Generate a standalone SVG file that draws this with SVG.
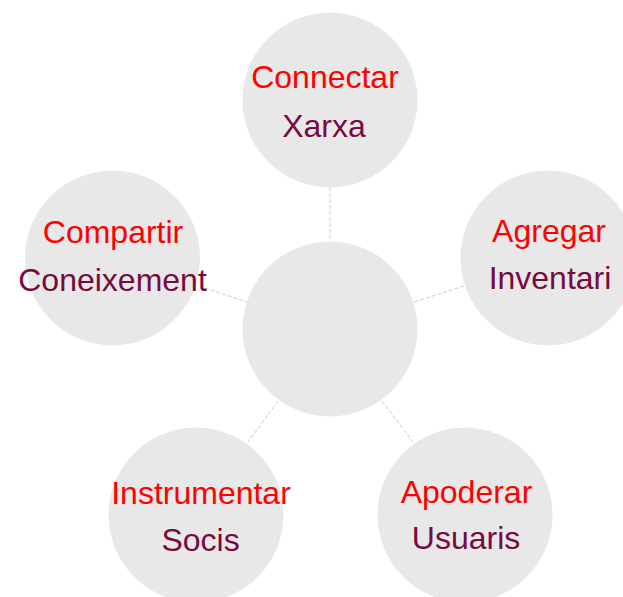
<svg xmlns="http://www.w3.org/2000/svg" width="623" height="597" viewBox="0 0 623 597">
<style>
.n{fill:#e8e8e8}
.c{stroke:#cccccc;stroke-width:1;stroke-dasharray:4,2;fill:none}
.t{font-family:"Liberation Sans",Arial,sans-serif;font-size:32px;text-anchor:middle}
.r{fill:#ff0000}
.m{fill:#780a3e}
</style>
<rect width="623" height="597" fill="#ffffff"/>
<g id="connectors">
<line class="c" x1="330" y1="187" x2="330" y2="241"/>
<line class="c" x1="205" y1="288" x2="247" y2="302"/>
<line class="c" x1="464" y1="286" x2="414" y2="302"/>
<line class="c" x1="278" y1="401" x2="248" y2="442"/>
<line class="c" x1="382" y1="401" x2="413" y2="442"/>
</g>
<g id="center"><circle class="n" cx="330" cy="329" r="87.5"/></g>
<g id="connectar">
<circle class="n" cx="330" cy="100" r="87.5"/>
<text class="t r" x="325" y="87.5">Connectar</text>
<text class="t m" x="324" y="136.5">Xarxa</text>
</g>
<g id="compartir">
<circle class="n" cx="112.5" cy="258" r="87.5"/>
<text class="t r" x="113" y="243">Compartir</text>
<text class="t m" x="112.5" y="290.5">Coneixement</text>
</g>
<g id="agregar">
<circle class="n" cx="548" cy="258" r="87.5"/>
<text class="t r" x="549" y="241.5">Agregar</text>
<text class="t m" x="550" y="289">Inventari</text>
</g>
<g id="instrumentar">
<circle class="n" cx="196" cy="515" r="87.5"/>
<text class="t r" x="201" y="504">Instrumentar</text>
<text class="t m" x="200.5" y="550.5">Socis</text>
</g>
<g id="apoderar">
<circle class="n" cx="465" cy="515" r="87.5"/>
<text class="t r" x="466.5" y="502.5">Apoderar</text>
<text class="t m" x="466" y="549">Usuaris</text>
</g>
</svg>
